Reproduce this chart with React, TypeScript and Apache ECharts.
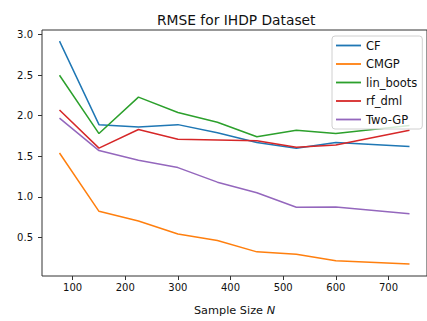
import React, { useEffect, useRef } from "react";
import * as echarts from "echarts";

const sampleSizes = [75, 150, 225, 300, 375, 450, 525, 600, 740];
const cf = [2.92, 1.89, 1.86, 1.89, 1.79, 1.67, 1.6, 1.67, 1.62];
const cmgp = [1.54, 0.82, 0.7, 0.54, 0.46, 0.32, 0.29, 0.21, 0.17];
const linBoots = [2.5, 1.78, 2.23, 2.04, 1.92, 1.74, 1.82, 1.78, 1.88];
const rfDml = [2.07, 1.6, 1.83, 1.71, 1.7, 1.69, 1.61, 1.64, 1.82];
const twoGp = [1.97, 1.57, 1.45, 1.36, 1.18, 1.05, 0.87, 0.875, 0.79];

const seriesNames = ["CF", "CMGP", "lin_boots", "rf_dml", "Two-GP"];
const seriesValues = [cf, cmgp, linBoots, rfDml, twoGp];
const colors = ["#1f77b4", "#ff7f0e", "#2ca02c", "#d62728", "#9467bd"];

const xTicks = [100, 200, 300, 400, 500, 600, 700];
const yTicks = [0.5, 1.0, 1.5, 2.0, 2.5, 3.0];

const FONT = "DejaVu Sans";

export default function App() {
  const ref = useRef<HTMLDivElement>(null);
  useEffect(() => {
    if (!ref.current) return;
    const chart = echarts.init(ref.current, null, { renderer: "svg" });
    chart.setOption({
      animation: false,
      backgroundColor: "#ffffff",
      title: {
        text: "RMSE for IHDP Dataset",
        left: 157,
        top: 13,
        padding: 0,
        textStyle: { fontFamily: FONT, fontSize: 13.8, fontWeight: "normal", color: "#111" },
      },
      legend: {
        orient: "vertical",
        left: 332,
        top: 36,
        padding: [3, 5, 3, 4],
        itemWidth: 25,
        itemHeight: 1.8,
        itemGap: 5.5,
        icon: "rect",
        backgroundColor: "rgba(255,255,255,0.8)",
        borderColor: "#d0d0d0",
        borderWidth: 1,
        borderRadius: 3,
        textStyle: { fontFamily: FONT, fontSize: 11.5, lineHeight: 13, color: "#111" },
        data: seriesNames,
      },
      grid: {
        left: 42,
        right: -5,
        top: 30,
        bottom: 38,
        show: true,
        borderColor: "#333",
        borderWidth: 1,
        backgroundColor: "transparent",
      },
      xAxis: {
        type: "value",
        min: 41.75,
        max: 773.25,
        axisLine: { show: false },
        splitLine: { show: false },
        axisTick: { show: true, length: 4, customValues: xTicks, lineStyle: { color: "#333", width: 1 } },
        axisLabel: {
          customValues: xTicks,
          margin: 6,
          fontFamily: FONT,
          fontSize: 10,
          color: "#111",
        },
        name: "Sample Size {i|N}",
        nameLocation: "middle",
        nameGap: 29,
        nameTextStyle: {
          fontFamily: FONT,
          fontSize: 11.3,
          color: "#111",
          rich: { i: { fontFamily: FONT, fontStyle: "italic", fontSize: 11.3, color: "#111" } },
        },
      },
      yAxis: {
        type: "value",
        min: 0.022,
        max: 3.058,
        axisLine: { show: false },
        splitLine: { show: false },
        axisTick: { show: true, length: 4, customValues: yTicks, lineStyle: { color: "#333", width: 1 } },
        axisLabel: {
          customValues: yTicks,
          margin: 9,
          fontFamily: FONT,
          fontSize: 10,
          color: "#111",
          formatter: (v: number) => v.toFixed(1),
        },
      },
      series: seriesNames.map((name, i) => ({
        name,
        type: "line",
        data: sampleSizes.map((x, j) => [x, seriesValues[i][j]]),
        showSymbol: false,
        symbol: "none",
        color: colors[i],
        lineStyle: { color: colors[i], width: 1.5 },
        itemStyle: { color: colors[i] },
      })),
    });
    return () => chart.dispose();
  }, []);
  return (
    <div
      ref={ref}
      style={{ position: "fixed", left: 0, top: 0, width: 427, height: 321 }}
    />
  );
}
